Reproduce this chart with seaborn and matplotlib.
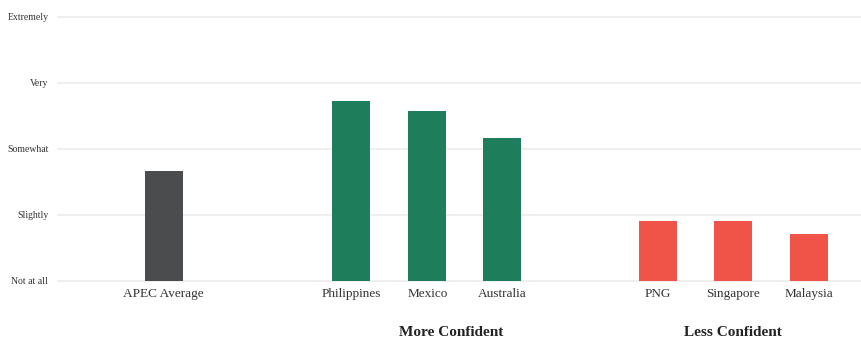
import matplotlib
matplotlib.use("Agg")
import matplotlib.pyplot as plt
import matplotlib.transforms as mtransforms
import pandas as pd
import seaborn as sns

# data
countries = ["APEC Average", "Philippines", "Mexico", "Australia", "PNG", "Singapore", "Malaysia"]
confidence = [1.66, 2.73, 2.58, 2.16, 0.91, 0.91, 0.71]
groups = ["Average", "More", "More", "More", "Less", "Less", "Less"]
level_labels = ["Not at all", "Slightly", "Somewhat", "Very", "Extremely"]
group_titles = ["More Confident", "Less Confident"]

# layout
positions = [0, 2.48, 3.49, 4.48, 6.54, 7.53, 8.54]
title_pos = [3.80, 7.54]
colours = {"Average": "#4b4c4e", "More": "#1e7d5a", "Less": "#f05348"}

df = pd.DataFrame({"pos": positions, "value": confidence, "group": groups})

sns.set_style("white")
plt.rcParams["font.family"] = ["Liberation Serif", "DejaVu Serif"]

fig = plt.figure(figsize=(8.61, 3.39), dpi=100)
ax = fig.add_axes([58 / 861, 58 / 339, 1 - 58 / 861, (322.3 - 58) / 339])

sns.barplot(data=df, x="pos", y="value", hue="group", palette=colours,
            native_scale=True, width=0.51, legend=False, ax=ax, saturation=1,
            linewidth=0)

ax.set_xlim(-1.40, 9.23)
ax.set_ylim(0, 4)
ax.set_yticks(range(len(level_labels)))
ax.set_yticklabels(level_labels)
ax.set_xticks(positions)
ax.set_xticklabels(countries)
ax.set_xlabel("")
ax.set_ylabel("")

for y in range(len(level_labels)):
    ax.axhline(y, color="#eeeeee", lw=1.3, zorder=0, clip_on=False)

sns.despine(ax=ax, left=True, bottom=True, top=True, right=True)
ax.tick_params(axis="y", length=0, pad=7, labelsize=7, labelcolor="#333333")
ax.tick_params(axis="x", length=0, pad=5, labelsize=9.5, labelcolor="#333333")

trans = mtransforms.blended_transform_factory(ax.transData, ax.transAxes)
for x, t in zip(title_pos, group_titles):
    ax.text(x, -0.193, t, transform=trans, ha="center", va="center",
            fontsize=11, fontweight="bold", color="#222222")

fig.savefig("out.png", dpi=100)
